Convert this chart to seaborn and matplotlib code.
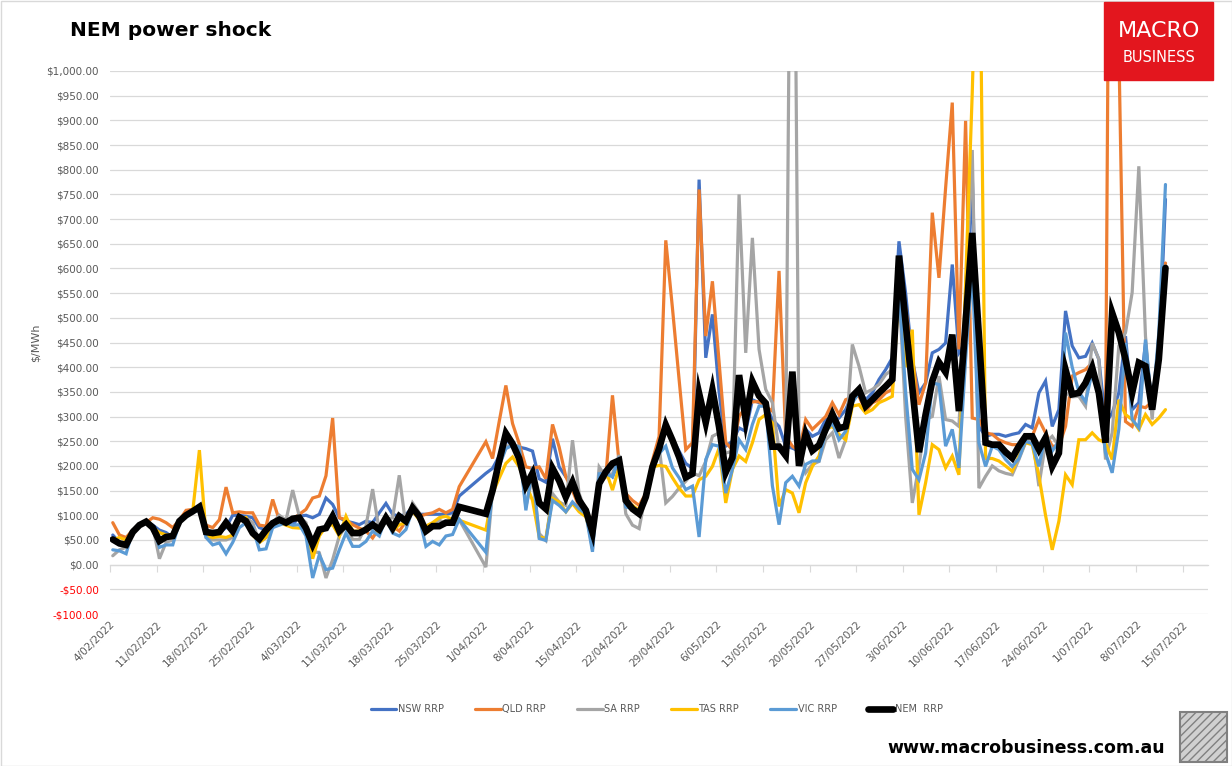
import pandas as pd
import numpy as np
import matplotlib.pyplot as plt
import matplotlib.dates as mdates
from matplotlib.patches import Rectangle
from matplotlib.ticker import FuncFormatter
import seaborn as sns

sns.set_style('white')
plt.rcParams['font.family'] = ['DejaVu Sans']

# daily dates, 29-31 March missing in the source data
dates = pd.date_range('2022-02-04', '2022-07-12', freq='D')
dates = dates[~dates.isin(pd.to_datetime(['2022-03-29', '2022-03-30', '2022-03-31']))]

nsw = [60, 45, 40, 70, 80, 85, 80, 70, 65, 55,
       88, 100, 108, 110, 65, 60, 65, 75, 100, 100,
       98, 95, 75, 70, 75, 88, 85, 80, 98, 100,
       95, 102, 135, 122, 95, 88, 85, 81, 88, 85,
       105, 124, 102, 98, 102, 115, 102, 102, 102, 102,
       102, 105, 139,
       185, 195, 220, 252, 242, 238, 235, 230, 174, 167,
       255, 198, 178, 164, 127, 110, 60, 184, 191, 178,
       211, 127, 117, 103, 137, 205, 252, 279, 255, 230,
       205, 195, 780, 419, 507, 350, 240, 250, 277, 270,
       334, 328, 324, 294, 280, 240, 236, 230, 274, 260,
       267, 294, 294, 297, 314, 345, 355, 334, 348, 375,
       395, 419, 655, 550, 415, 348, 368, 429, 436, 449,
       608, 429, 450, 790, 280, 260, 264, 264, 260, 264,
       267, 284, 277, 348, 372, 280, 314, 514, 443, 419,
       422, 449, 416, 287, 307, 348, 463, 314, 328, 449,
       314, 416, 740]

qld = [85, 60, 55, 70, 80, 85, 95, 92, 85, 75,
       90, 110, 112, 115, 80, 75, 91, 157, 105, 107,
       105, 105, 80, 78, 132, 90, 88, 92, 102, 112,
       135, 139, 180, 297, 95, 91, 81, 74, 68, 54,
       74, 95, 78, 68, 88, 112, 98, 102, 105, 112,
       105, 112, 158,
       249, 215, 290, 363, 286, 245, 198, 195, 198, 174,
       284, 238, 178, 150, 117, 103, 90, 164, 178, 343,
       205, 144, 130, 120, 144, 211, 260, 657, 520, 375,
       233, 247, 760, 463, 574, 410, 247, 233, 300, 320,
       330, 330, 320, 311, 595, 260, 240, 230, 294, 274,
       287, 300, 328, 304, 334, 340, 341, 311, 328, 334,
       348, 355, 600, 520, 420, 324, 368, 713, 581, 763,
       936, 436, 899, 297, 294, 267, 264, 253, 247, 243,
       243, 253, 260, 294, 267, 240, 240, 280, 382, 389,
       395, 409, 350, 270, 2350, 1050, 290, 280, 321, 318,
       330, 416, 611]

sa = [18, 30, 35, 70, 80, 85, 78, 12, 45, 50,
      85, 100, 108, 110, 55, 50, 50, 50, 55, 90,
      95, 85, 45, 55, 85, 100, 90, 151, 98, 85,
      27, 24, -27, 10, 58, 78, 51, 51, 78, 153,
      68, 91, 95, 181, 78, 125, 105, 71, 78, 91,
      81, 88, 91,
      -5, 150, 200, 240, 242, 240, 117, 178, 63, 49,
      144, 127, 120, 252, 144, 107, 32, 198, 178, 184,
      222, 103, 80, 73, 144, 205, 240, 125, 138, 155,
      169, 186, 180, 209, 260, 267, 226, 230, 750, 429,
      662, 436, 355, 328, 233, 230, 1900, 243, 186, 203,
      209, 253, 267, 216, 253, 446, 402, 348, 355, 365,
      385, 395, 560, 300, 125, 200, 294, 300, 382, 294,
      291, 280, 550, 840, 155, 179, 200, 190, 185, 182,
      213, 247, 260, 159, 247, 260, 240, 348, 340, 341,
      321, 449, 416, 213, 267, 443, 470, 551, 807, 463,
      294, 463, 605]

tas = [50, 55, 50, 70, 80, 85, 75, 65, 60, 60,
       85, 100, 108, 232, 60, 55, 57, 55, 60, 90,
       95, 60, 45, 55, 80, 85, 80, 75, 74, 78,
       12, 58, 78, 81, 58, 98, 68, 68, 74, 81,
       64, 95, 68, 81, 85, 108, 91, 78, 85, 95,
       98, 91, 90,
       70, 144, 175, 205, 218, 198, 164, 130, 56, 53,
       134, 127, 107, 124, 107, 97, 50, 171, 191, 151,
       198, 127, 120, 110, 144, 198, 201, 199, 176, 155,
       139, 139, 172, 179, 199, 236, 125, 193, 220, 209,
       247, 294, 304, 287, 118, 152, 145, 105, 166, 199,
       220, 274, 280, 264, 253, 321, 324, 307, 314, 328,
       334, 341, 560, 400, 476, 101, 166, 243, 233, 196,
       220, 182, 570, 956, 1440, 215, 215, 210, 200, 189,
       220, 247, 243, 180, 100, 30, 88, 182, 162, 253,
       253, 267, 253, 247, 213, 334, 304, 294, 274, 304,
       284, 297, 314]

vic = [30, 28, 22, 70, 80, 85, 78, 35, 40, 40,
       85, 100, 108, 110, 55, 40, 44, 22, 45, 75,
       85, 75, 30, 32, 75, 80, 85, 80, 81, 58,
       -27, 20, -10, -7, 30, 64, 37, 37, 47, 68,
       58, 95, 64, 58, 71, 112, 95, 37, 47, 40,
       58, 61, 92,
       25, 150, 200, 235, 242, 238, 110, 198, 53, 49,
       130, 120, 107, 127, 113, 103, 26, 184, 184, 178,
       218, 117, 113, 107, 137, 191, 225, 240, 196, 176,
       152, 159, 56, 213, 243, 240, 145, 193, 253, 233,
       284, 321, 321, 160, 81, 166, 179, 159, 203, 210,
       210, 270, 287, 253, 270, 328, 348, 321, 334, 348,
       361, 375, 560, 350, 193, 172, 226, 368, 365, 240,
       274, 196, 415, 600, 247, 199, 240, 233, 213, 199,
       215, 250, 245, 199, 263, 230, 250, 470, 400, 350,
       330, 390, 341, 226, 186, 274, 449, 294, 277, 456,
       314, 470, 770]

nem = [51, 43, 40, 66, 80, 87, 75, 48, 56, 58,
       88, 100, 108, 117, 66, 64, 66, 85, 68, 96,
       88, 64, 52, 70, 84, 91, 85, 93, 95, 74,
       41, 71, 74, 98, 68, 81, 64, 64, 71, 81,
       71, 95, 74, 98, 88, 115, 98, 68, 78, 78,
       85, 85, 117,
       103, 150, 210, 266, 245, 215, 160, 185, 125, 113,
       195, 170, 137, 167, 130, 110, 66, 164, 188, 205,
       211, 130, 113, 103, 137, 198, 235, 283, 252, 218,
       177, 184, 347, 288, 354, 279, 187, 217, 384, 293,
       371, 342, 327, 239, 239, 221, 391, 200, 265, 231,
       242, 274, 305, 276, 280, 341, 355, 321, 334, 348,
       361, 375, 626, 490, 360, 228, 304, 372, 410, 390,
       466, 311, 490, 672, 463, 247, 243, 243, 228, 216,
       240, 260, 260, 233, 257, 199, 226, 395, 345, 348,
       368, 399, 348, 247, 510, 470, 416, 348, 409, 402,
       314, 416, 601]

series = [('NSW RRP', nsw, '#4472C4', 2.3),
          ('QLD RRP', qld, '#ED7D31', 2.3),
          ('SA RRP', sa, '#A5A5A5', 2.3),
          ('TAS RRP', tas, '#FFC000', 2.3),
          ('VIC RRP', vic, '#5B9BD5', 2.3),
          ('NEM  RRP', nem, '#000000', 4.8)]

# readings sit around midday in the source chart
plot_dates = dates + pd.Timedelta(hours=10)

fig = plt.figure(figsize=(12.32, 7.66), dpi=100)
ax = fig.add_axes([110 / 1232, 1 - 614 / 766, 1098 / 1232, 543 / 766])

for name, vals, col, lw in series:
    sns.lineplot(x=plot_dates, y=vals, color=col, linewidth=lw, ax=ax, label=name,
                 solid_joinstyle='miter')

ax.set_ylim(-100, 1000)
ax.set_yticks(np.arange(-100, 1001, 50))
ax.set_xlim(pd.Timestamp('2022-02-04'), pd.Timestamp('2022-02-04') + pd.Timedelta(days=164.8))
ax.grid(axis='y', color='#D9D9D9', linewidth=0.9)
ax.grid(axis='x', visible=False)
ax.set_axisbelow(True)
for s in ax.spines.values():
    s.set_visible(False)


def money(v, pos):
    return f"-${abs(v):,.2f}" if v < 0 else f"${v:,.2f}"


ax.yaxis.set_major_formatter(FuncFormatter(money))
ax.tick_params(axis='y', length=0, pad=8, labelsize=7.5, labelcolor='#595959')
for lab, v in zip(ax.get_yticklabels(), ax.get_yticks()):
    if v < 0:
        lab.set_color('#FF0000')

ticks = pd.date_range('2022-02-04', '2022-07-15', freq='7D')
ax.set_xticks(ticks)
ax.xaxis.set_major_formatter(FuncFormatter(
    lambda v, pos: (lambda d: f"{d.day}/{d.month:02d}/{d.year}")(mdates.num2date(v))))
ax.tick_params(axis='x', length=0, pad=4, labelsize=7.5, labelcolor='#595959')
for lab in ax.get_xticklabels():
    lab.set_rotation(45)
    lab.set_ha('right')
    lab.set_rotation_mode('anchor')

# axis line with tick marks crossing at zero
sec = ax.secondary_xaxis(100 / 1100)
sec.set_xticks(ticks)
sec.tick_params(length=5, color='#D9D9D9', labelbottom=False)
sec.spines['bottom'].set_color('#D9D9D9')
sec.spines['bottom'].set_linewidth(0.9)

ax.set_ylabel('$/MWh', color='#595959', fontsize=8, labelpad=4)
ax.set_xlabel('')

ax.legend_.remove()
handles, labels = ax.get_legend_handles_labels()
leg = fig.legend(handles, labels, loc='center', bbox_to_anchor=(657 / 1232, 1 - 709 / 766),
                 ncol=6, frameon=False, fontsize=7, handlelength=2.6, handletextpad=0.2,
                 columnspacing=3.2)
for t in leg.get_texts():
    t.set_color('#595959')

fig.text(70 / 1232, 1 - 30 / 766, 'NEM power shock', fontsize=14.5, fontweight='bold',
         color='black', ha='left', va='center')

# logo box
fig.patches.append(Rectangle((1104 / 1232, 1 - 80 / 766), 109 / 1232, 78 / 766,
                             transform=fig.transFigure, color='#E3161E', zorder=5))
fig.text(1159 / 1232, 1 - 31 / 766, 'MACRO', color='white', fontsize=16,
         ha='center', va='center', zorder=6)
fig.text(1159 / 1232, 1 - 57 / 766, 'BUSINESS', color='white', fontsize=10.5,
         ha='center', va='center', zorder=6)

fig.text(1165 / 1232, 1 - 748 / 766, 'www.macrobusiness.com.au', fontsize=12.5,
         fontweight='bold', color='black', ha='right', va='center')

# wolf badge placeholder
fig.patches.append(Rectangle((1180 / 1232, 1 - 762 / 766), 47 / 1232, 50 / 766,
                             transform=fig.transFigure, facecolor='#D0D0D0',
                             edgecolor='#808080', linewidth=1.5, hatch='////'))

# outer border
fig.patches.append(Rectangle((0.5 / 1232, 0.5 / 766), 1 - 1 / 1232, 1 - 1 / 766,
                             transform=fig.transFigure, fill=False,
                             edgecolor='#D9D9D9', linewidth=1))

fig.savefig('out.png', dpi=100)
